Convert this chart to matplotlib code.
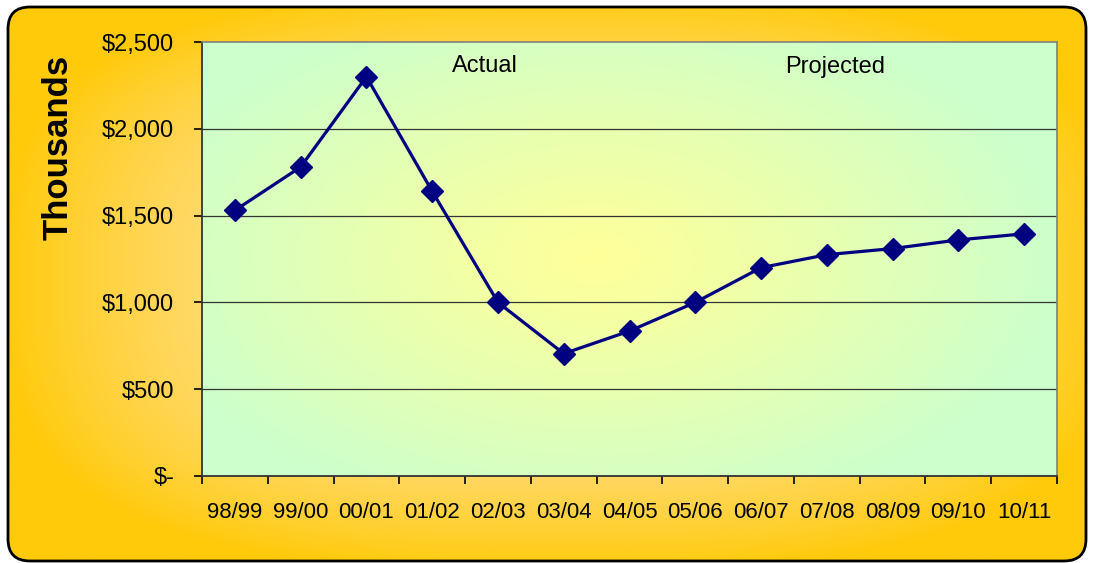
import numpy as np
import matplotlib.pyplot as plt
from matplotlib.patches import FancyBboxPatch
from matplotlib.colors import to_rgb

# fiscal years and amounts (thousands of dollars)
years = ['98/99', '99/00', '00/01', '01/02', '02/03', '03/04', '04/05',
         '05/06', '06/07', '07/08', '08/09', '09/10', '10/11']
amounts = [1530, 1780, 2300, 1640, 1000, 705, 835,
           1000, 1200, 1275, 1310, 1360, 1395]
y_ticks = [0, 500, 1000, 1500, 2000, 2500]
y_tick_labels = ['$-', '$500', '$1,000', '$1,500', '$2,000', '$2,500']

W, H = 1094, 563
plt.rcParams['font.family'] = ['Liberation Sans', 'DejaVu Sans']

fig = plt.figure(figsize=(W / 100, H / 100), dpi=100)
fig.patch.set_facecolor('white')


def blend(c0, c1, t):
    c0 = np.array(to_rgb(c0))
    c1 = np.array(to_rgb(c1))
    return c0 + (c1 - c0) * t[..., None]


# outer rounded panel with orange gradient
bg = fig.add_axes([0, 0, 1, 1])
bg.set_xlim(0, W)
bg.set_ylim(H, 0)
bg.axis('off')

gx, gy = np.meshgrid(np.linspace(0, W, 400), np.linspace(0, H, 220))
u = (gx - 560) / 560
v = (gy - 280) / 290
r = (np.abs(u) ** 3 + np.abs(v) ** 3) ** (1 / 3)
t = np.clip(r, 0, 1) ** 2.2
outer = blend('#FFE2A0', '#FFCA0A', t)

frame = FancyBboxPatch((8, 7), W - 16, H - 9,
                       boxstyle='round,pad=0,rounding_size=22',
                       facecolor='none', edgecolor='black', linewidth=2,
                       zorder=3)
bg.add_patch(frame)
img = bg.imshow(outer, extent=(0, W, H, 0), aspect='auto', zorder=1,
                interpolation='bilinear')
img.set_clip_path(frame)

# plot area
ax = fig.add_axes([202 / W, 1 - 476 / H, 855 / W, 434 / H])
px, py = np.meshgrid(np.linspace(0, 1, 300), np.linspace(0, 1, 160))
pu = (px - 0.46) / 0.55
pv = (py - 0.5) / 0.62
pr = np.sqrt(pu ** 2 + pv ** 2)
pt = np.clip(pr, 0, 1) ** 1.1
inner = blend('#FFFF99', '#CCFFCC', pt)
ax.imshow(inner, extent=(0, 1, 0, 1), transform=ax.transAxes,
          aspect='auto', origin='lower', zorder=0, interpolation='bilinear')

x = np.arange(len(years))
ax.plot(x, amounts, color='#000080', linewidth=2.3, marker='D',
        markersize=11, markerfacecolor='#000080', markeredgecolor='#000080',
        zorder=4)

ax.set_xlim(-0.5, len(years) - 0.5)
ax.set_ylim(0, 2500)
ax.set_yticks(y_ticks)
ax.set_yticklabels(y_tick_labels)
ax.set_xticks(x)
ax.set_xticklabels(years)
ax.set_xticks(np.arange(-0.5, len(years)), minor=True)
ax.tick_params(axis='x', which='major', length=0, pad=19, labelsize=16)
ax.tick_params(axis='x', which='minor', length=6, width=1.2, direction='out')
ax.tick_params(axis='y', length=6, width=1.2, direction='out', pad=14,
               labelsize=17)

for val in y_ticks[1:-1]:
    ax.axhline(val, color='#333333', linewidth=0.9, zorder=1)

for side in ['top', 'right']:
    ax.spines[side].set_color('#808080')
    ax.spines[side].set_linewidth(1.2)
for side in ['left', 'bottom']:
    ax.spines[side].set_color('#333333')
    ax.spines[side].set_linewidth(1.3)

ax.text(3.8, 2360, 'Actual', fontsize=17, ha='center', va='center')
ax.text(9.12, 2355, 'Projected', fontsize=17, ha='center', va='center')

fig.text(58 / W, 1 - 147 / H, 'Thousands', rotation=90, fontsize=25,
         fontweight='bold', ha='center', va='center')

fig.savefig('out.png', dpi=100)
